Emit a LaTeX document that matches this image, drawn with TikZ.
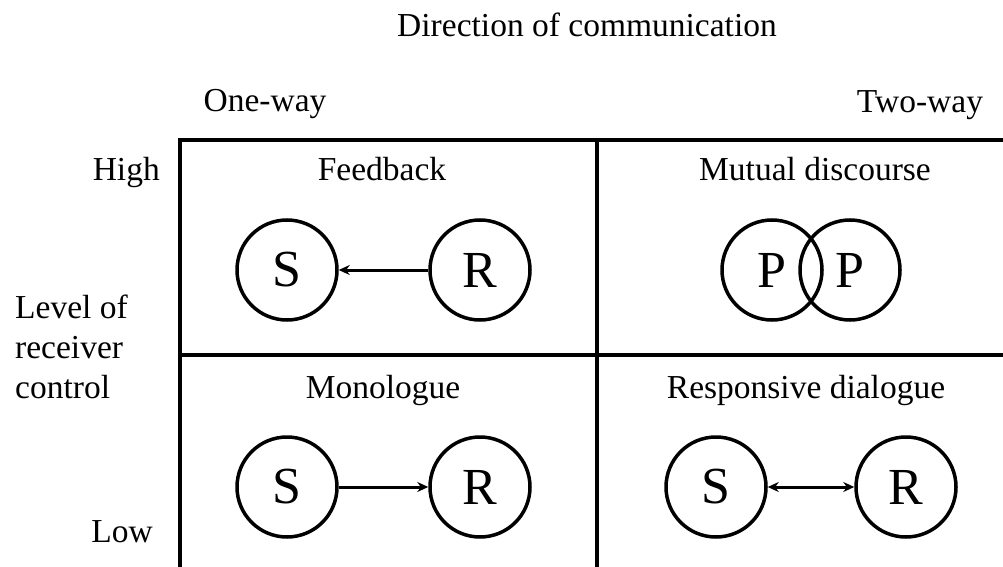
\documentclass[tikz,border=0pt]{standalone}
\usepackage{fontspec}
\setmainfont{Liberation Serif}
\usetikzlibrary{arrows.meta, positioning}
\tikzset{
    party/.style={
        circle, draw=black, line width=3.5pt, minimum size=100pt,
        inner sep=0pt, font=\fontsize{52}{52}\selectfont
    },
    celltitle/.style={
        font=\fontsize{33.5}{40}\selectfont, anchor=base, inner sep=0pt
    },
    axislab/.style={
        font=\fontsize{33.5}{40}\selectfont, inner sep=0pt
    },
    gridline/.style={
        line width=4pt, draw=black
    },
    flow/.style={
        -{Stealth[length=11pt, width=10pt]}, line width=3pt
    },
    twoflow/.style={
        {Stealth[length=11pt, width=10pt]}-{Stealth[length=11pt, width=10pt]},
        line width=3pt
    },
}

\begin{document}
\begin{tikzpicture}[x=1pt, y=-1pt]

    \useasboundingbox (0,0) rectangle (1003,567);

    % Axis captions
    \node[axislab, anchor=base] (direction) at (587,37) {Direction of communication};
    \node[axislab, anchor=base] (oneway) at (265,112) {One-way};
    \node[axislab, anchor=base] (twoway) at (920,113) {Two-way};
    \node[axislab, anchor=base east] (high) at (160,180) {High};
    \node[axislab, anchor=base east] (low) at (153,542) {Low};
    \node[axislab, anchor=base west, align=left] (level) at (15,398)
        {Level of\\receiver\\control};

    % Table frame
    \coordinate (topleft) at (178,140);
    \coordinate (topright) at (1003,140);
    \coordinate (midleft) at (180,355);
    \coordinate (midright) at (1003,355);
    \draw[gridline] (topleft) -- (topright);
    \draw[gridline] (midleft) -- (midright);
    \draw[gridline] (180,140) -- (180,567);
    \draw[gridline] (597,140) -- (597,567);

    % Cell titles
    \node[celltitle] (fbtitle) at (382,180) {Feedback};
    \node[celltitle] (mdtitle) at (815,180) {Mutual discourse};
    \node[celltitle] (motitle) at (383,398) {Monologue};
    \node[celltitle] (rdtitle) at (806,398) {Responsive dialogue};

    % Feedback: receiver answers sender
    \node[party] (fbS) at (287,270) {S};
    \node[party] (fbR) at (480,270) {R};
    \draw[flow] (fbR) -- (fbS);

    % Mutual discourse: overlapping partners
    \node[party] (mdP1) at (772,270) {P};
    \node[party] (mdP2) at (850,270) {P};

    % Monologue: sender to receiver
    \node[party] (moS) at (287,487) {S};
    \node[party] (moR) at (480,487) {R};
    \draw[flow] (moS) -- (moR);

    % Responsive dialogue: both ways
    \node[party] (rdS) at (716,487) {S};
    \node[party] (rdR) at (906,487) {R};
    \draw[twoflow] (rdS) -- (rdR);

\end{tikzpicture}
\end{document}
